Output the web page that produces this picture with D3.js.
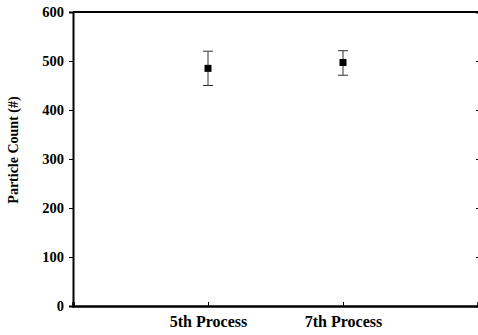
<!DOCTYPE html>
<html>
<head>
<meta charset="utf-8">
<script src="https://cdn.jsdelivr.net/npm/d3@7"></script>
<style>
  body { margin: 0; background: #fff; }
  svg text { font-family: "Liberation Serif", "Times New Roman", serif; font-weight: bold; }
</style>
</head>
<body>
<svg id="chart"></svg>
<script>
const categories = ["5th Process", "7th Process"];
const means = [485, 497];
const upper = [520, 521];
const lower = [450, 471];
const yTicks = [0, 100, 200, 300, 400, 500, 600];

const width = 478, height = 335;
const margin = { top: 12, right: 0, bottom: 29, left: 73 };
const serif = "'Liberation Serif', 'Times New Roman', serif";

const svg = d3.select("#chart")
    .attr("width", width)
    .attr("height", height);

const x = d3.scaleLinear()
    .domain([0, categories.length + 1])
    .range([margin.left, width - margin.right]);

const y = d3.scaleLinear()
    .domain([0, 600])
    .range([height - margin.bottom, margin.top]);

// left axis
const leftAxis = svg.append("g")
    .attr("transform", `translate(${margin.left},0)`)
    .call(d3.axisLeft(y).tickValues(yTicks).tickSize(4).tickPadding(5))
    .attr("font-family", serif);
leftAxis.select(".domain").attr("stroke-width", 2);
leftAxis.selectAll("text").attr("font-size", "14.5px").attr("fill", "#000");

// right axis, ticks pointing in
const rightAxis = svg.append("g")
    .attr("transform", `translate(${width - margin.right + 1},0)`)
    .call(d3.axisRight(y).tickValues(yTicks).tickSize(-3).tickFormat(""));
rightAxis.select(".domain").attr("stroke-width", 2);

// top line
svg.append("line")
    .attr("x1", margin.left).attr("x2", width)
    .attr("y1", y(600)).attr("y2", y(600))
    .attr("stroke", "#000").attr("stroke-width", 2);

// bottom axis, ticks pointing in
const bottomAxis = svg.append("g")
    .attr("transform", `translate(0,${y(0)})`)
    .call(d3.axisBottom(x)
        .tickValues(categories.map((c, i) => i + 1))
        .tickSize(-4)
        .tickFormat((d, i) => categories[i]))
    .attr("font-family", serif);
bottomAxis.select(".domain").attr("stroke-width", 2.5);
bottomAxis.selectAll("text")
    .attr("font-size", "16px").attr("fill", "#000")
    .attr("y", 21).attr("dy", null);

// y title
svg.append("text")
    .attr("transform", `translate(18,150) rotate(-90)`)
    .attr("text-anchor", "middle")
    .attr("font-size", "14px")
    .text("Particle Count (#)");

// error bars
const pts = categories.map((c, i) => ({ c, i: i + 1, m: means[i], hi: upper[i], lo: lower[i] }));
const g = svg.append("g");
g.selectAll(".err").data(pts).enter().append("line")
    .attr("x1", d => x(d.i)).attr("x2", d => x(d.i))
    .attr("y1", d => y(d.hi)).attr("y2", d => y(d.lo))
    .attr("stroke", "#333").attr("stroke-width", 1);
g.selectAll(".capT").data(pts).enter().append("line")
    .attr("x1", d => x(d.i) - 5).attr("x2", d => x(d.i) + 5)
    .attr("y1", d => y(d.hi)).attr("y2", d => y(d.hi))
    .attr("stroke", "#333").attr("stroke-width", 1);
g.selectAll(".capB").data(pts).enter().append("line")
    .attr("x1", d => x(d.i) - 5).attr("x2", d => x(d.i) + 5)
    .attr("y1", d => y(d.lo)).attr("y2", d => y(d.lo))
    .attr("stroke", "#333").attr("stroke-width", 1);
g.selectAll(".pt").data(pts).enter().append("rect")
    .attr("x", d => x(d.i) - 3.5).attr("y", d => y(d.m) - 3.5)
    .attr("width", 7).attr("height", 7)
    .attr("fill", "#000");
</script>
</body>
</html>
